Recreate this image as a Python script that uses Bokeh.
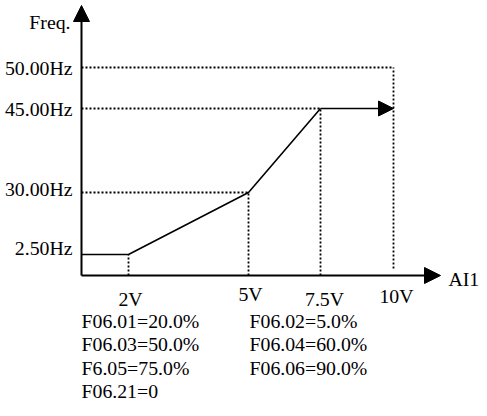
import numpy as np
from bokeh.plotting import figure
from bokeh.models import Range1d, Arrow, NormalHead
from bokeh.core.properties import value
from bokeh.embed import file_html
from bokeh.resources import INLINE

# ---- data ----
volts = [2, 5, 7.5, 10]                 # AI1 breakpoints (V)
volt_labels = ["2V", "5V", "7.5V", "10V"]
freqs = [2.5, 30, 45, 50]               # frequency levels (Hz)
freq_labels = ["2.50Hz", "30.00Hz", "45.00Hz", "50.00Hz"]
curve_v = [0, 2, 5, 7.5]                # curve points (V)
curve_f = [2.5, 2.5, 30, 45]            # curve points (Hz)
curve_end_v = 10                        # the curve holds 45 Hz up to 10 V
params_left = ["F06.01=20.0%", "F06.03=50.0%", "F6.05=75.0%", "F06.21=0"]
params_right = ["F06.02=5.0%", "F06.04=60.0%", "F06.06=90.0%"]

# ---- schematic (not-to-scale) axis scales, in screen units ----
W, H = 480, 410
X_KNOTS = [81, 128, 248, 320, 393]                      # 0, 2, 5, 7.5, 10 V
Y_KNOTS = [H - 275, H - 254, H - 192, H - 108, H - 67]  # 0, 2.5, 30, 45, 50 Hz


def sx(v):
    return np.interp(v, [0] + volts, X_KNOTS)


def sy(f):
    return np.interp(f, [0] + freqs, Y_KNOTS)


FONT = value("Liberation Serif")
FS = value("19.8px")

p = figure(width=W, height=H, output_backend="svg", toolbar_location=None,
           x_range=Range1d(0, W), y_range=Range1d(0, H),
           min_border=0, outline_line_color=None)
p.axis.visible = False
p.grid.visible = False

x0, y0 = float(sx(0)), float(sy(0))
AXIS_TOP = H - 5
AXIS_RIGHT = 440
head = dict(size=16, fill_color="black", line_color="black")

# axes with arrowheads
p.add_layout(Arrow(x_start=x0, y_start=y0, x_end=x0, y_end=AXIS_TOP,
                   line_width=2, end=NormalHead(**head)))
p.add_layout(Arrow(x_start=x0, y_start=y0, x_end=AXIS_RIGHT, y_end=y0,
                   line_width=2, end=NormalHead(**head)))

# dotted guides
dot = dict(line_color="black", line_width=1.8, line_dash="2 2")
for v, f in zip(volts[1:], freqs[1:]):
    p.line([x0, float(sx(v))], [float(sy(f))] * 2, **dot)
for i, (v, f) in enumerate(zip(volts, freqs)):
    bottom = y0 if i < 3 else y0 + 7
    p.line([float(sx(v))] * 2, [bottom, float(sy(f))], **dot)

# curve
p.line(sx(curve_v), sy(curve_f), line_color="black", line_width=1.6)
p.add_layout(Arrow(x_start=float(sx(curve_v[-1])), y_start=float(sy(curve_f[-1])),
                   x_end=float(sx(curve_end_v)), y_end=float(sy(curve_f[-1])),
                   line_width=1.6,
                   end=NormalHead(size=15, fill_color="black", line_color="black")))

# frequency labels
hz_dy = [7, 4, 0, 0]
p.text(x=[x0 - 9] * len(freqs), y=list(sy(freqs) + np.array(hz_dy)),
       text=freq_labels, text_align="right", text_baseline="middle",
       text_font=FONT, text_font_size=FS, text_color="black")
p.text(x=[x0 - 11], y=[AXIS_TOP - 16], text=["Freq."], text_align="right",
       text_baseline="middle", text_font=FONT, text_font_size=FS,
       text_color="black")

# voltage labels
v_dx = [2, 2, 4, 3]
v_dy = [23, 18, 23, 20]
p.text(x=list(sx(volts) + np.array(v_dx)), y=list(y0 - np.array(v_dy)),
       text=volt_labels, text_align="center", text_baseline="middle",
       text_font=FONT, text_font_size=FS, text_color="black")
p.text(x=[AXIS_RIGHT + 8], y=[y0 - 3], text=["AI1"], text_align="left",
       text_baseline="middle", text_font=FONT, text_font_size=FS,
       text_color="black")

# parameter block
row_y = [H - 320, H - 343, H - 367, H - 390]
p.text(x=[x0] * len(params_left), y=row_y[:len(params_left)], text=params_left,
       text_align="left", text_baseline="middle", text_font=FONT,
       text_font_size=FS, text_color="black")
p.text(x=[float(sx(5)) + 1] * len(params_right), y=row_y[:len(params_right)],
       text=params_right, text_align="left", text_baseline="middle",
       text_font=FONT, text_font_size=FS, text_color="black")

open("out.html", "w").write(file_html(p, INLINE))
